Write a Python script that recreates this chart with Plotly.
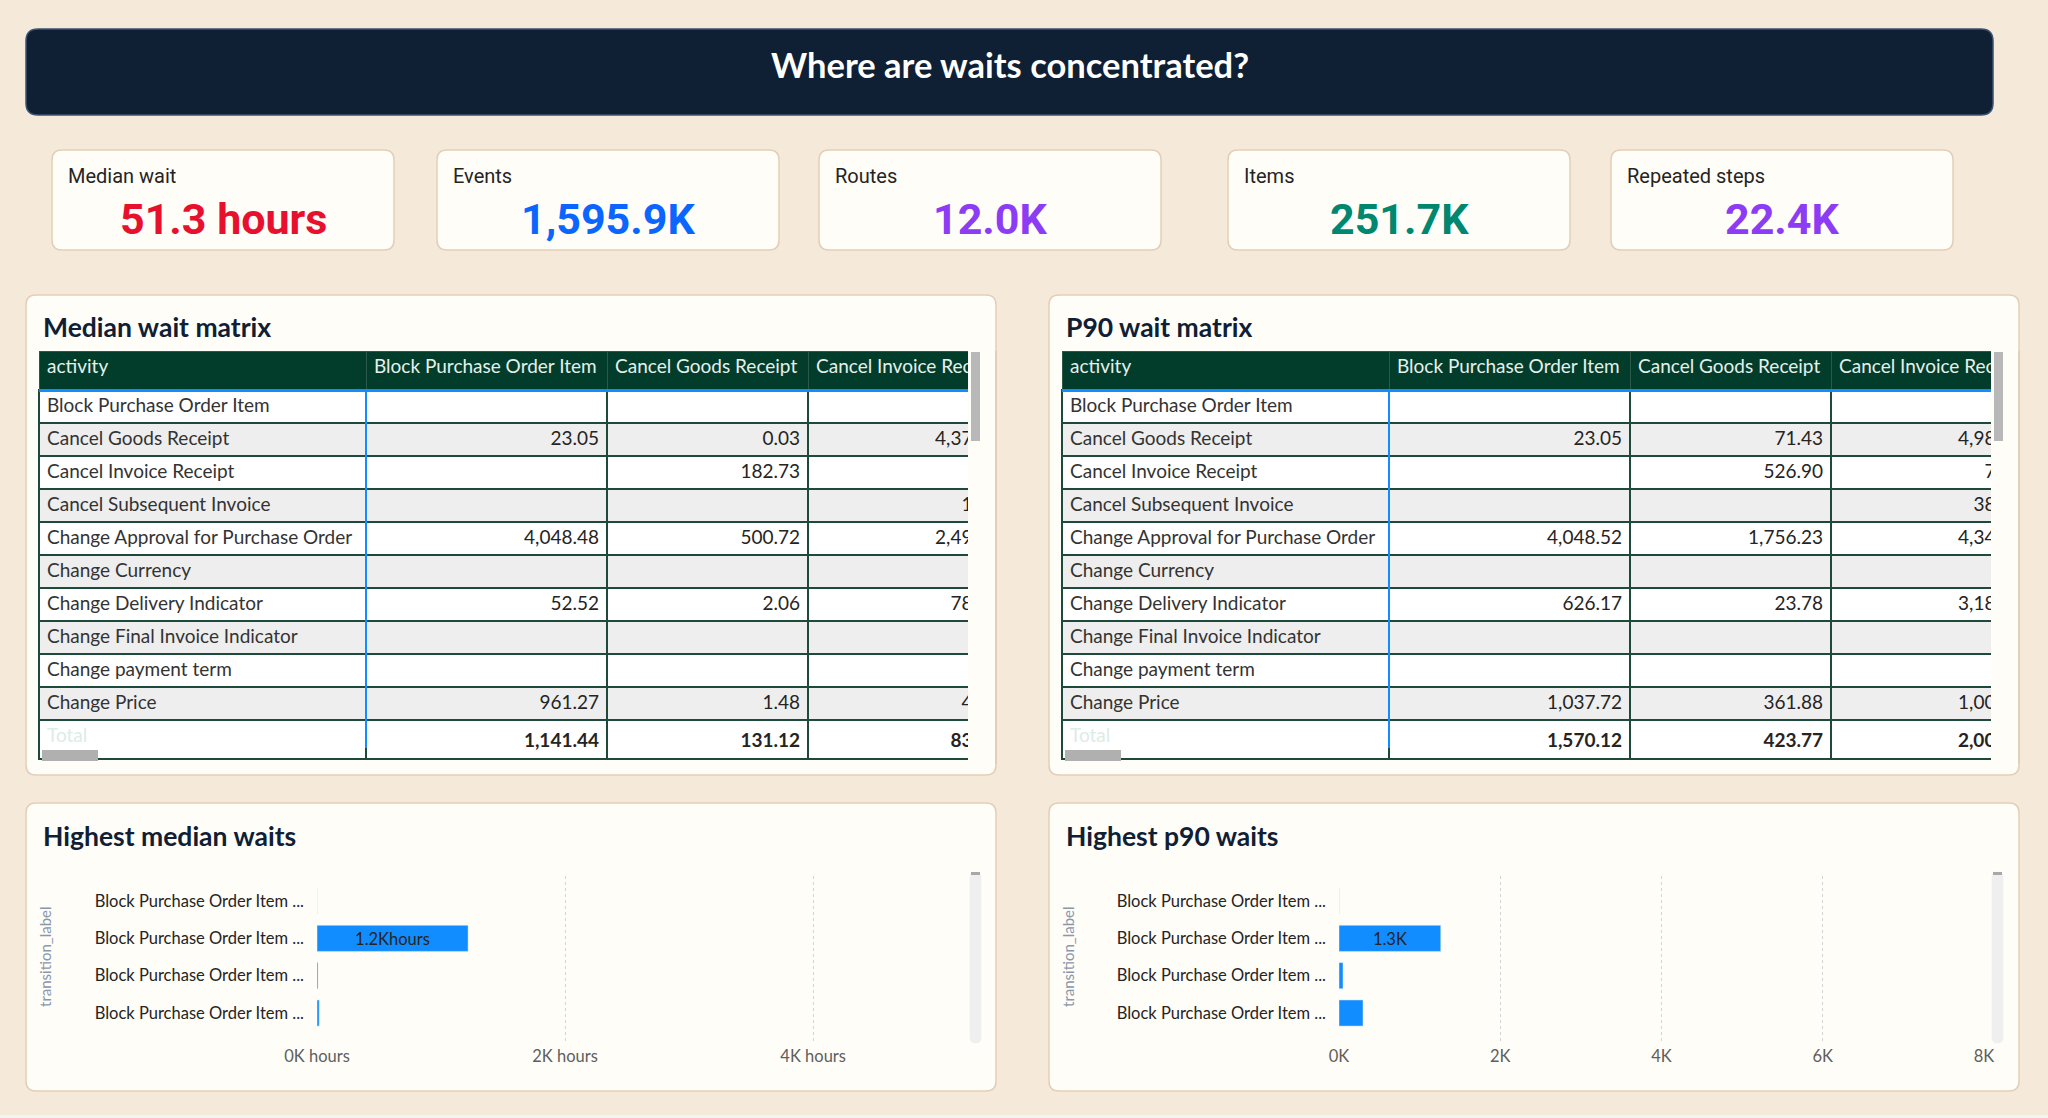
import plotly.graph_objects as go

W, H = 2048, 1118

# KPI cards
kpi_labels = ["Median wait", "Events", "Routes", "Items", "Repeated steps"]
kpi_values = [51.3, 1595.9, 12.0, 251.7, 22.4]
kpi_suffix = [" hours", "K", "K", "K", "K"]
kpi_colors = ["#e8112d", "#0b66ff", "#8c3cf5", "#00876f", "#8c3cf5"]

# matrices (rows = activity, columns = next activity)
activities = ["Block Purchase Order Item", "Cancel Goods Receipt", "Cancel Invoice Receipt",
              "Cancel Subsequent Invoice", "Change Approval for Purchase Order", "Change Currency",
              "Change Delivery Indicator", "Change Final Invoice Indicator", "Change payment term",
              "Change Price"]
matrix_cols = ["Block Purchase Order Item", "Cancel Goods Receipt", "Cancel Invoice Receipt"]

median_block = [None, 23.05, None, None, 4048.48, None, 52.52, None, None, 961.27]
median_cancel_gr = [None, 0.03, 182.73, None, 500.72, None, 2.06, None, None, 1.48]
median_cancel_ir = [None, 4373.52, 0.62, 16.84, 2493.17, None, 784.26, None, None, 49.31]
median_totals = [1141.44, 131.12, 837.45]

p90_block = [None, 23.05, None, None, 4048.52, None, 626.17, None, None, 1037.72]
p90_cancel_gr = [None, 71.43, 526.90, None, 1756.23, None, 23.78, None, None, 361.88]
p90_cancel_ir = [None, 4983.40, 71.90, 384.15, 4347.60, None, 3182.35, None, None, 1003.80]
p90_totals = [1570.12, 423.77, 2002.65]

# bar charts
transitions = ["Block Purchase Order Item → Block Purchase Order Item",
               "Block Purchase Order Item → Change Price",
               "Block Purchase Order Item → Change Quantity",
               "Block Purchase Order Item → Create Purchase Order Item"]
median_hours = [0.4, 1218, 8, 18]
p90_hours = [1, 1262, 50, 298]

SEGOE = "Lato, Open Sans, sans-serif"
DIN = "Roboto, sans-serif"
PAGE = "#f5e9da"
PANEL = "#fffdf8"
EDGE = "#e3cfb7"


def fx(x):
    return x / W


def fy(y):
    return 1 - y / H


def rrect(x0, y0, x1, y1, r, fill, line, lw=1.5):
    X, Y = fx, fy
    p = (f"M {X(x0 + r)},{Y(y0)} L {X(x1 - r)},{Y(y0)} Q {X(x1)},{Y(y0)} {X(x1)},{Y(y0 + r)} "
         f"L {X(x1)},{Y(y1 - r)} Q {X(x1)},{Y(y1)} {X(x1 - r)},{Y(y1)} "
         f"L {X(x0 + r)},{Y(y1)} Q {X(x0)},{Y(y1)} {X(x0)},{Y(y1 - r)} "
         f"L {X(x0)},{Y(y0 + r)} Q {X(x0)},{Y(y0)} {X(x0 + r)},{Y(y0)} Z")
    return dict(type="path", path=p, xref="paper", yref="paper", fillcolor=fill,
                line=dict(color=line, width=lw), layer="below")


def box(x0, y0, x1, y1, color):
    return dict(xref="paper", yref="paper", x=fx(x0), y=fy(y0), xanchor="left", yanchor="top",
                text=" ", width=x1 - x0, height=y1 - y0, bgcolor=color, borderpad=0,
                borderwidth=0, showarrow=False, font=dict(size=1))


def text(x, y, s, size, color, family=SEGOE, xanchor="left", angle=0):
    return dict(xref="paper", yref="paper", x=fx(x), y=fy(y), xanchor=xanchor, yanchor="middle",
                text=s, showarrow=False, textangle=angle,
                font=dict(size=size, color=color, family=family))


def fmt(v):
    return "" if v is None else f"{v:,.2f}"


def nb(s):
    return s.replace(" ", "\u00a0")


def matrix_table(x0, cols, totals):
    n = len(activities)
    first = [nb(a) for a in activities] + ["Total"]
    values = [first] + [[fmt(v) for v in c] + [f"<b>{t:,.2f}</b>"] for c, t in zip(cols, totals)]
    row_fill = ["#ffffff" if i % 2 == 0 else "#eeeeee" for i in range(n)] + ["#ffffff"]
    font_col = [["#333333"] * n + ["#dcece6"]] + [["#252423"] * (n + 1)] * len(cols)
    return go.Table(
        domain=dict(x=[fx(x0), fx(x0 + 979)], y=[fy(762), fy(351)]),
        columnwidth=[327, 241, 201, 210],
        header=dict(values=[nb("activity")] + [nb(c) for c in matrix_cols],
                    fill_color="#023d2c", align="left", height=39,
                    line=dict(color="#2c5849", width=1),
                    font=dict(family=SEGOE, size=19, color="#e6f0eb")),
        cells=dict(values=values, height=33, align=["left", "right", "right", "right"],
                   fill=dict(color=[row_fill] * 4),
                   line=dict(color="#1d4a3a", width=1.5),
                   font=dict(family=SEGOE, size=19, color=font_col)),
    )


fig = go.Figure()
fig.add_trace(matrix_table(39, [median_block, median_cancel_gr, median_cancel_ir], median_totals))
fig.add_trace(matrix_table(1062, [p90_block, p90_cancel_gr, p90_cancel_ir], p90_totals))

short = [t[:25] + " ..." for t in transitions]
med_lbl = [f"{v / 1000:.1f}Khours" for v in median_hours]
p90_lbl = [f"{v / 1000:.1f}K" for v in p90_hours]

for vals, lbls, xa, ya in [(median_hours, med_lbl, "x", "y"), (p90_hours, p90_lbl, "x2", "y2")]:
    fig.add_trace(go.Bar(x=vals, y=transitions, orientation="h", xaxis=xa, yaxis=ya,
                         marker_color="#118dff", width=0.7, text=lbls, textposition="inside",
                         insidetextanchor="middle", textangle=0,
                         textfont=dict(family=SEGOE, size=18, color="#252423"),
                         hoverinfo="skip", showlegend=False))

shapes = [rrect(26, 29, 1993, 115, 12, "#0f2035", "#3b5272", 1.5)]
card_x = [52, 437, 819, 1228, 1611]
for cx in card_x:
    shapes.append(rrect(cx, 150, cx + 342, 250, 10, PANEL, EDGE))
for px0 in [26, 1049]:
    shapes.append(rrect(px0, 295, px0 + 970, 775, 10, PANEL, EDGE))
    shapes.append(rrect(px0, 803, px0 + 970, 1091, 10, PANEL, EDGE))
# vertical scroll tracks beside the bar charts
for sx in [970, 1992]:
    shapes.append(rrect(sx, 872, sx + 11, 1043, 5, "#efefef", "#efefef", 0.5))
    shapes.append(dict(type="rect", xref="paper", yref="paper", x0=fx(sx + 1), x1=fx(sx + 10),
                       y0=fy(875), y1=fy(872), fillcolor="#a8a8a8", line_width=0, layer="below"))
shapes.append(dict(type="rect", xref="paper", yref="paper", x0=0, x1=1, y0=0, y1=fy(1115),
                   fillcolor="#f3f3f3", line_width=0, layer="below"))

ann = [text(1010, 65, "<b>Where are waits concentrated?</b>", 34.5, "#ffffff", xanchor="center")]
for cx, lab, v, suf, col in zip(card_x, kpi_labels, kpi_values, kpi_suffix, kpi_colors):
    ann.append(text(cx + 14, 176, lab, 20, "#252423", family=DIN))
    ann.append(text(cx + 171, 219, f"<b>{v:,.1f}{suf}</b>", 43, col, family=DIN, xanchor="center"))

for px0, t1, t2 in [(26, "Median wait matrix", "Highest median waits"),
                    (1049, "P90 wait matrix", "Highest p90 waits")]:
    ann.append(text(px0 + 15, 327, f"<b>{t1}</b>", 26.5, "#0f2035"))
    ann.append(text(px0 + 15, 836, f"<b>{t2}</b>", 26.5, "#0f2035"))
    ann.append(text(px0 + 19, 957, "transition_label", 15, "#8a97ab", angle=-90, xanchor="center"))

# cover the part of the last matrix column that is scrolled out of view
for right in [968, 1991]:
    edge = right + 28
    ann.append(box(right, 351, edge - 1, 764, PANEL))
    ann.append(box(edge - 1, 351, edge + 1, 764, EDGE))
    ann.append(box(edge + 1, 351, edge + 26, 764, PAGE))
    ann.append(box(right + 3, 352, right + 12, 441, "#b8b8b8"))

# blue separators of the matrix visuals
for tx0, colx in [(39, 366), (1062, 1389)]:
    ann.append(box(tx0, 389, tx0 + 929, 392, "#118dff"))
    ann.append(box(colx - 1, 392, colx + 1, 748, "#118dff"))
    ann.append(box(tx0 + 3, 750, tx0 + 59, 761, "#b0b0b0"))

axis_common = dict(showgrid=True, gridcolor="#d4d4d4", griddash="dot", zeroline=False,
                   showline=False, ticks="", automargin=False,
                   tickfont=dict(family=SEGOE, size=16.5, color="#605e5c"))
ycommon = dict(type="category", showgrid=False, zeroline=False, ticks="", range=[3.83, -0.67],
               tickvals=transitions, ticktext=short, ticklabelstandoff=12, automargin=False,
               tickfont=dict(family=SEGOE, size=16.5, color="#252423"))

fig.update_layout(
    width=W, height=H, margin=dict(l=0, r=0, t=0, b=0, autoexpand=False),
    paper_bgcolor=PAGE, plot_bgcolor="rgba(0,0,0,0)",
    shapes=shapes, annotations=ann, showlegend=False,
    uniformtext=dict(minsize=14, mode="hide"),
    xaxis=dict(domain=[fx(317), fx(962)], anchor="y", range=[0, 5200],
               tickvals=[0, 2000, 4000], ticktext=[f"{v // 1000}K hours" for v in [0, 2000, 4000]],
               **axis_common),
    yaxis=dict(domain=[fy(1044), fy(876)], anchor="x", **ycommon),
    xaxis2=dict(domain=[fx(1339), fx(1984)], anchor="y2", range=[0, 8000],
                tickvals=[0, 2000, 4000, 6000, 8000],
                ticktext=[f"{v // 1000}K" for v in [0, 2000, 4000, 6000, 8000]], **axis_common),
    yaxis2=dict(domain=[fy(1044), fy(876)], anchor="x2", **ycommon),
)

fig.write_html("out.html", config={"displayModeBar": False},
               post_script="document.body.style.margin='0';document.body.style.background='#f5e9da';")
